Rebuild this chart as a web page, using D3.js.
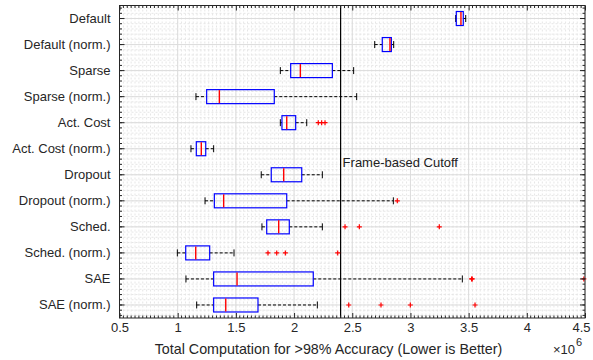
<!DOCTYPE html>
<html>
<head>
<meta charset="utf-8">
<script src="https://cdn.jsdelivr.net/npm/d3@7"></script>
<style>
	body { margin: 0; background: #fff; }
	svg { display: block; font-family: 'Liberation Sans', Arial, sans-serif; }
</style>
</head>
<body>
<svg id="chart" width="593" height="360"></svg>
<script>
// values in units of 10^6
const categories = ['Default', 'Default (norm.)', 'Sparse', 'Sparse (norm.)', 'Act. Cost', 'Act. Cost (norm.)',
	'Dropout', 'Dropout (norm.)', 'Sched.', 'Sched. (norm.)', 'SAE', 'SAE (norm.)']
const whiskerLow = [3.389, 2.693, 1.882, 1.157, 1.882, 1.114, 1.718, 1.235, 1.724, 0.997, 1.071, 1.163]
const q1 = [3.394, 2.758, 1.971, 1.249, 1.896, 1.160, 1.804, 1.315, 1.765, 1.069, 1.309, 1.309]
const medians = [3.434, 2.824, 2.054, 1.358, 1.937, 1.203, 1.911, 1.395, 1.868, 1.155, 1.510, 1.413]
const q3 = [3.454, 2.836, 2.329, 1.830, 2.014, 1.241, 2.066, 1.937, 1.959, 1.275, 2.165, 1.690]
const whiskerHigh = [3.475, 2.856, 2.512, 2.538, 2.109, 1.309, 2.243, 2.853, 2.243, 1.484, 3.446, 2.200]
const outliers = [[], [], [], [], [2.208, 2.237, 2.266], [], [], [2.887], [2.438, 2.561, 3.248],
	[1.776, 1.851, 1.925, 2.375], [3.526, 3.531, 4.49], [2.470, 2.747, 2.999, 3.555]]
const xTicks = [0.5, 1, 1.5, 2, 2.5, 3, 3.5, 4, 4.5]
const cutoff = 2.4

const svg = d3.select('#chart')
const mLeft = 119.5, mRight = 585, mTop = 5.5, mBottom = 318

//Scales
const x = d3.scaleLinear().domain([0.5, 4.5]).range([mLeft, mRight])
const y = d3.scaleBand().domain(categories).range([mTop, mBottom])
const bw = y.bandwidth()
const yc = c => y(c) + bw / 2

const minorX = d3.range(0, 121).map(i => 0.5 + i / 30)
const minorY = d3.range(0, 61).map(i => mTop + bw / 2 + (i - 2) * bw / 5).filter(v => v > mTop && v < mBottom)

//Grid, minor first then major
const grid = svg.append('g')
grid.selectAll(null).data(minorX).enter().append('line')
	.attr('x1', d => x(d)).attr('x2', d => x(d)).attr('y1', mTop).attr('y2', mBottom)
	.attr('stroke', '#e6e6e6').attr('stroke-dasharray', '2,2')
grid.selectAll(null).data(minorY).enter().append('line')
	.attr('x1', mLeft).attr('x2', mRight).attr('y1', d => d).attr('y2', d => d)
	.attr('stroke', '#e6e6e6').attr('stroke-dasharray', '2,2')
grid.selectAll(null).data(xTicks).enter().append('line')
	.attr('x1', d => x(d)).attr('x2', d => x(d)).attr('y1', mTop).attr('y2', mBottom)
	.attr('stroke', '#dcdcdc')
grid.selectAll(null).data(categories).enter().append('line')
	.attr('x1', mLeft).attr('x2', mRight).attr('y1', d => yc(d)).attr('y2', d => yc(d))
	.attr('stroke', '#dcdcdc')

//Cutoff line
svg.append('line')
	.attr('x1', x(cutoff)).attr('x2', x(cutoff)).attr('y1', mTop).attr('y2', mBottom)
	.attr('stroke', '#000').attr('stroke-width', 1.2)
svg.append('text')
	.attr('x', x(cutoff) + 2).attr('y', yc('Act. Cost (norm.)') + 18)
	.attr('font-size', 13).attr('fill', '#222')
	.text('Frame-based Cutoff')

//Boxes
const rows = svg.append('g').selectAll(null).data(categories).enter().append('g')
	.attr('transform', d => 'translate(0,' + yc(d) + ')')
const boxH = 14, capH = 7

rows.append('line')
	.attr('x1', (d, i) => x(whiskerLow[i])).attr('x2', (d, i) => x(q1[i]))
	.attr('stroke', '#000').attr('stroke-dasharray', '3,2')
rows.append('line')
	.attr('x1', (d, i) => x(q3[i])).attr('x2', (d, i) => x(whiskerHigh[i]))
	.attr('stroke', '#000').attr('stroke-dasharray', '3,2')
rows.append('line')
	.attr('x1', (d, i) => x(whiskerLow[i])).attr('x2', (d, i) => x(whiskerLow[i]))
	.attr('y1', -capH / 2).attr('y2', capH / 2).attr('stroke', '#000')
rows.append('line')
	.attr('x1', (d, i) => x(whiskerHigh[i])).attr('x2', (d, i) => x(whiskerHigh[i]))
	.attr('y1', -capH / 2).attr('y2', capH / 2).attr('stroke', '#000')
rows.append('rect')
	.attr('x', (d, i) => x(q1[i])).attr('width', (d, i) => x(q3[i]) - x(q1[i]))
	.attr('y', -boxH / 2).attr('height', boxH)
	.attr('fill', 'none').attr('stroke', '#0000ff').attr('stroke-width', 1.2)
rows.append('line')
	.attr('x1', (d, i) => x(medians[i])).attr('x2', (d, i) => x(medians[i]))
	.attr('y1', -boxH / 2 + 0.5).attr('y2', boxH / 2 - 0.5)
	.attr('stroke', '#ff0000').attr('stroke-width', 1.4)
rows.selectAll('.out').data((d, i) => outliers[i]).enter().append('path')
	.attr('d', v => 'M' + (x(v) - 2.5) + ',0H' + (x(v) + 2.5) + 'M' + x(v) + ',-2.5V2.5')
	.attr('stroke', '#ff0000').attr('stroke-width', 1.2)

//Axes with inward ticks on all sides
function styleAxis(g) {
	g.select('.domain').remove()
	g.selectAll('.tick line').attr('stroke', '#262626')
	g.selectAll('text').attr('fill', '#262626').style('font-size', '13px').style('font-family', 'Liberation Sans, Arial, sans-serif')
}
const minorXt = minorX.filter(v => !xTicks.includes(Math.round(v * 1000) / 1000))
const xb = svg.append('g').attr('transform', 'translate(0,' + mBottom + ')')
	.call(d3.axisBottom(x).tickValues(xTicks).tickFormat(d3.format('~g')).tickSizeInner(-5).tickPadding(5))
styleAxis(xb)
xb.selectAll('.tick text').filter(d => d === 4.5).attr('dx', -4)
const xt = svg.append('g').attr('transform', 'translate(0,' + mTop + ')')
	.call(d3.axisTop(x).tickValues(xTicks).tickFormat('').tickSizeInner(-5))
styleAxis(xt)
;[mBottom, mTop].forEach(p => {
	svg.append('g').selectAll(null).data(minorXt).enter().append('line')
		.attr('x1', d => x(d)).attr('x2', d => x(d))
		.attr('y1', p).attr('y2', p + (p === mBottom ? -2.5 : 2.5)).attr('stroke', '#262626')
})
const yl = svg.append('g').attr('transform', 'translate(' + mLeft + ',0)')
	.call(d3.axisLeft(y).tickSizeInner(-5).tickPadding(9))
styleAxis(yl)
const yr = svg.append('g').attr('transform', 'translate(' + mRight + ',0)')
	.call(d3.axisRight(y).tickSizeInner(-5).tickFormat(''))
styleAxis(yr)
;[mLeft, mRight].forEach(p => {
	svg.append('g').selectAll(null).data(minorY).enter().append('line')
		.attr('x1', p).attr('x2', p + (p === mLeft ? 2.5 : -2.5))
		.attr('y1', d => d).attr('y2', d => d).attr('stroke', '#262626')
})

svg.append('rect')
	.attr('x', mLeft).attr('y', mTop).attr('width', mRight - mLeft).attr('height', mBottom - mTop)
	.attr('fill', 'none').attr('stroke', '#262626')

//Axis label and exponent
svg.append('text')
	.attr('x', 328.5).attr('y', 354)
	.attr('text-anchor', 'middle').attr('font-size', 14.3).attr('fill', '#262626')
	.text('Total Computation for >98% Accuracy (Lower is Better)')
const expo = svg.append('text')
	.attr('x', 553).attr('y', 354)
	.attr('font-size', 13).attr('fill', '#262626')
expo.append('tspan').text('\u00d710')
expo.append('tspan').attr('dy', -8).attr('dx', 1).attr('font-size', 11).text('6')
</script>
</body>
</html>
